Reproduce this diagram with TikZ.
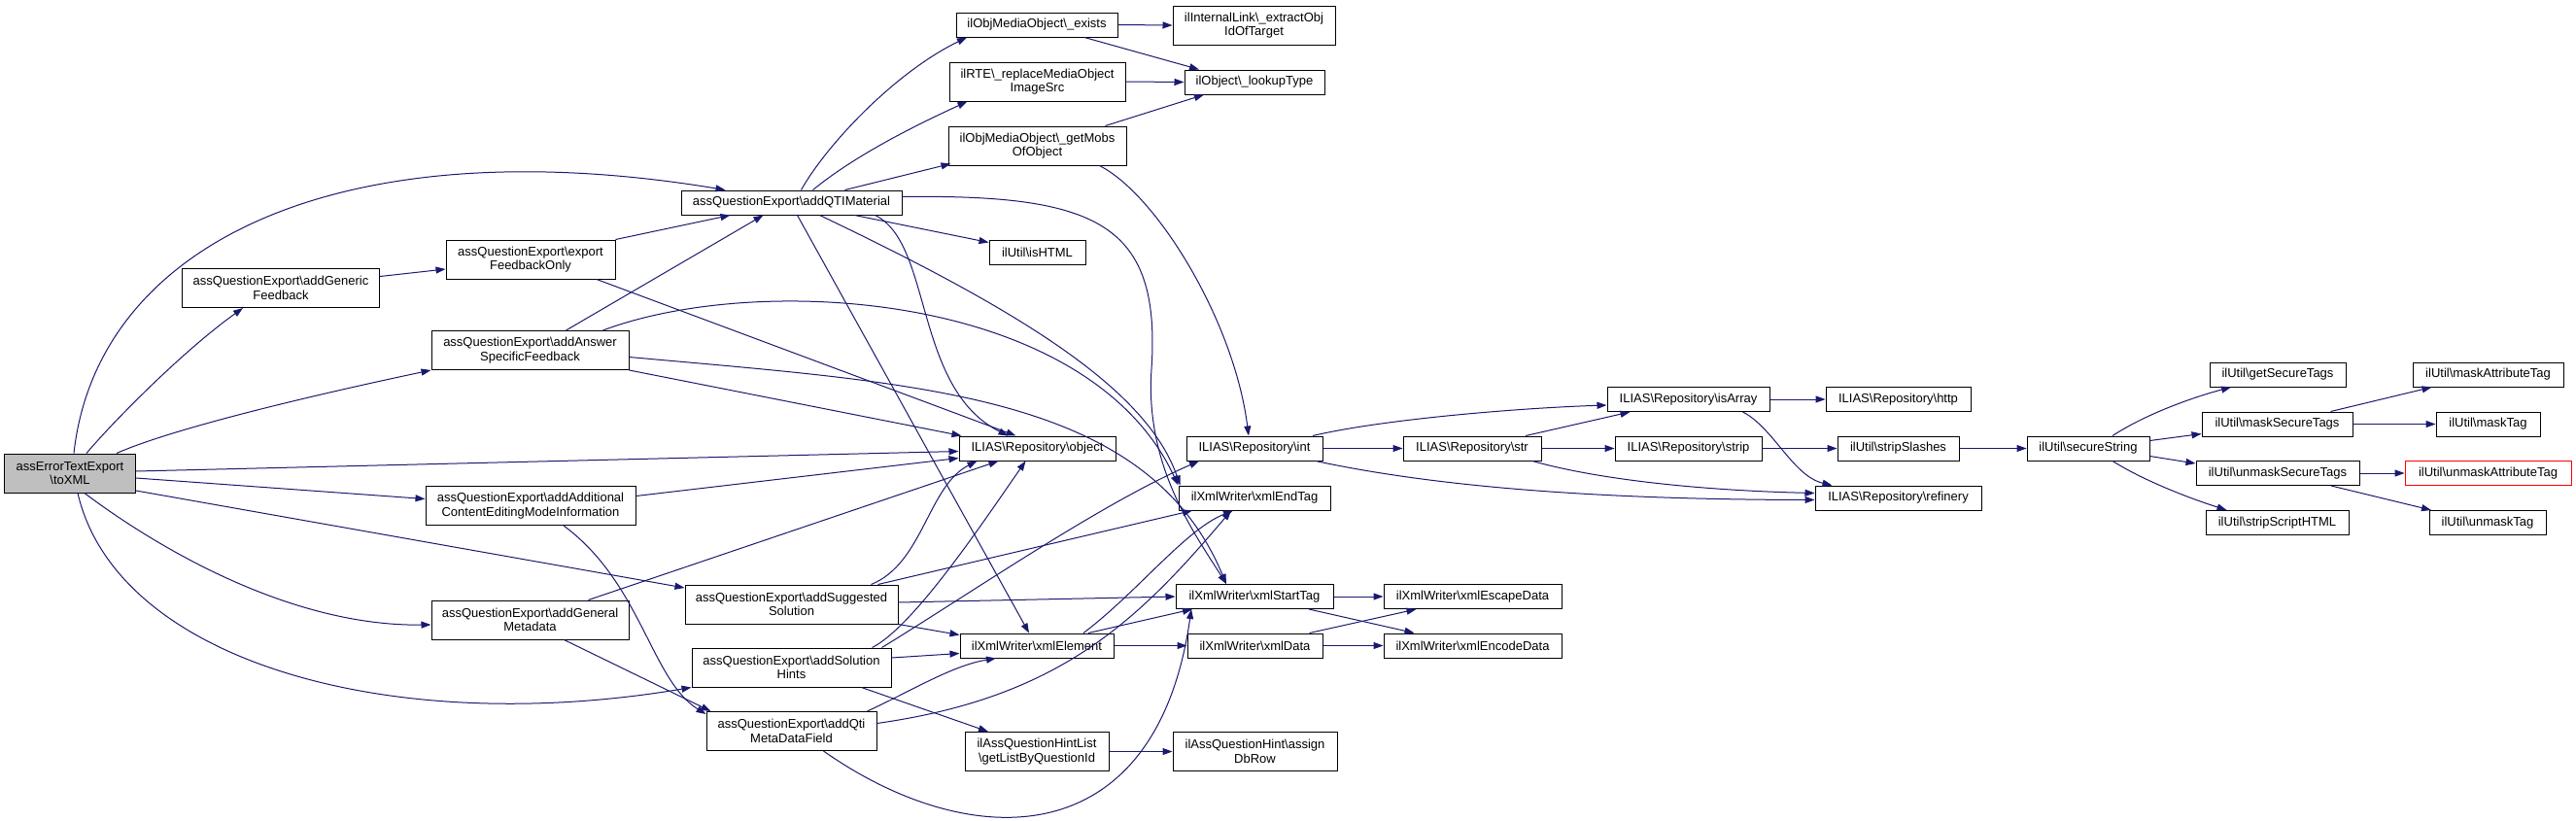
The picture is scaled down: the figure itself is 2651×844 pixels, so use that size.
\documentclass[tikz,border=0pt]{standalone}
\usepackage{fontspec}
\usepackage{tikz}
\usetikzlibrary{arrows.meta}
\newfontfamily\doxyfont{Liberation Sans}
\definecolor{edgeblue}{HTML}{191970}
\definecolor{nodegray}{HTML}{BFBFBF}
\newcommand{\bs}{\textbackslash{}}

\begin{document}
\begin{tikzpicture}[x=1pt,y=1pt,
    fn/.style={draw=black, line width=1pt, fill=white, inner sep=0pt, align=center,
      font=\doxyfont\fontsize{13}{14.5}\selectfont},
    oneline/.style={minimum height=25pt},
    twoline/.style={minimum height=40pt},
    call/.style={draw=edgeblue, line width=1pt, -{Triangle[length=10pt,width=7pt]}}]
    \path[use as bounding box, fill=white] (0,0) rectangle (2651,-844);
    % callers
    \node[fn, twoline, minimum width=135pt, fill=nodegray] (toxml) at (72,-487) {assErrorTextExport\\\bs toXML};
    \node[fn, twoline, minimum width=203pt] (gen) at (289,-296.5) {assQuestionExport\bs addGeneric\\Feedback};
    \node[fn, twoline, minimum width=174pt] (expfb) at (546,-267) {assQuestionExport\bs export\\FeedbackOnly};
    \node[fn, twoline, minimum width=203pt] (ansfb) at (545.5,-360.5) {assQuestionExport\bs addAnswer\\SpecificFeedback};
    \node[fn, twoline, minimum width=216pt] (addinfo) at (546,-520.5) {assQuestionExport\bs addAdditional\\ContentEditingModeInformation};
    \node[fn, twoline, minimum width=203pt] (genmeta) at (545.5,-638) {assQuestionExport\bs addGeneral\\Metadata};
    \node[fn, oneline, minimum width=227pt] (qtimat) at (814.5,-208.5) {assQuestionExport\bs addQTIMaterial};
    \node[fn, twoline, minimum width=219pt] (suggsol) at (814.5,-622) {assQuestionExport\bs addSuggested\\Solution};
    \node[fn, twoline, minimum width=205pt] (hints) at (814.5,-687) {assQuestionExport\bs addSolution\\Hints};
    \node[fn, twoline, minimum width=175pt] (qtimeta) at (814.5,-752.5) {assQuestionExport\bs addQti\\MetaDataField};
    % callees
    \node[fn, oneline, minimum width=166pt] (exists) at (1067,-25.5) {ilObjMediaObject\bs\_exists};
    \node[fn, twoline, minimum width=181pt] (rte) at (1067.5,-84) {ilRTE\bs\_replaceMediaObject\\ImageSrc};
    \node[fn, twoline, minimum width=183pt] (getmobs) at (1067.5,-150) {ilObjMediaObject\bs\_getMobs\\OfObject};
    \node[fn, oneline, minimum width=99pt] (ishtml) at (1067.5,-259.5) {ilUtil\bs isHTML};
    \node[fn, oneline, minimum width=161pt] (object) at (1067.5,-461.5) {ILIAS\bs Repository\bs object};
    \node[fn, oneline, minimum width=158pt] (xmlelem) at (1067,-664.5) {ilXmlWriter\bs xmlElement};
    \node[fn, twoline, minimum width=148pt] (hintlist) at (1067,-773.5) {ilAssQuestionHintList\\\bs getListByQuestionId};
    \node[fn, twoline, minimum width=167pt] (extract) at (1290.5,-26) {ilInternalLink\bs\_extractObj\\IdOfTarget};
    \node[fn, oneline, minimum width=144pt] (lookup) at (1291,-84.5) {ilObject\bs\_lookupType};
    \node[fn, oneline, minimum width=140pt] (repint) at (1291,-461.5) {ILIAS\bs Repository\bs int};
    \node[fn, oneline, minimum width=156pt] (endtag) at (1291,-512.5) {ilXmlWriter\bs xmlEndTag};
    \node[fn, oneline, minimum width=162pt] (starttag) at (1291,-614) {ilXmlWriter\bs xmlStartTag};
    \node[fn, oneline, minimum width=139pt] (xmldata) at (1291.5,-664.5) {ilXmlWriter\bs xmlData};
    \node[fn, twoline, minimum width=169pt] (assign) at (1291.5,-773.5) {ilAssQuestionHint\bs assign\\DbRow};
    \node[fn, oneline, minimum width=142pt] (str) at (1515,-461.5) {ILIAS\bs Repository\bs str};
    \node[fn, oneline, minimum width=183pt] (escape) at (1515.5,-614) {ilXmlWriter\bs xmlEscapeData};
    \node[fn, oneline, minimum width=183pt] (encode) at (1515.5,-664.5) {ilXmlWriter\bs xmlEncodeData};
    \node[fn, oneline, minimum width=167pt] (isarray) at (1737.5,-411) {ILIAS\bs Repository\bs isArray};
    \node[fn, oneline, minimum width=151pt] (strip) at (1737.5,-461.5) {ILIAS\bs Repository\bs strip};
    \node[fn, oneline, minimum width=149pt] (http) at (1953.5,-411) {ILIAS\bs Repository\bs http};
    \node[fn, oneline, minimum width=125pt] (slashes) at (1953.5,-461.5) {ilUtil\bs stripSlashes};
    \node[fn, oneline, minimum width=171pt] (refinery) at (1953.5,-512.5) {ILIAS\bs Repository\bs refinery};
    \node[fn, oneline, minimum width=126pt] (secure) at (2149,-461.5) {ilUtil\bs secureString};
    \node[fn, oneline, minimum width=140pt] (getsec) at (2344,-385.5) {ilUtil\bs getSecureTags};
    \node[fn, oneline, minimum width=155pt] (masksec) at (2343.5,-436.5) {ilUtil\bs maskSecureTags};
    \node[fn, oneline, minimum width=168pt] (unmasksec) at (2344,-487) {ilUtil\bs unmaskSecureTags};
    \node[fn, oneline, minimum width=147pt] (stripscript) at (2343.5,-538) {ilUtil\bs stripScriptHTML};
    \node[fn, oneline, minimum width=155pt] (maskattr) at (2560.5,-385.5) {ilUtil\bs maskAttributeTag};
    \node[fn, oneline, minimum width=107pt] (masktag) at (2560.5,-436.5) {ilUtil\bs maskTag};
    \node[fn, oneline, minimum width=171pt, draw=red] (unmaskattr) at (2560.5,-487) {ilUtil\bs unmaskAttributeTag};
    \node[fn, oneline, minimum width=120pt] (unmasktag) at (2560,-538) {ilUtil\bs unmaskTag};
    % toXML
    \draw[call] ([xshift=4pt]toxml.north) .. controls (100,-250) and (350,-130) .. ([xshift=-68pt]qtimat.north);
    \draw[call] ([xshift=17pt]toxml.north) .. controls (120,-430) and (190,-360) .. ([xshift=-39pt]gen.south);
    \draw[call] ([xshift=48pt]toxml.north) .. controls (180,-440) and (330,-405) .. (ansfb.south west);
    \draw[call] ([yshift=2pt]toxml.east) -- ([yshift=-3pt]object.west);
    \draw[call] ([yshift=-5pt]toxml.east) -- ([yshift=7pt]addinfo.west);
    \draw[call] ([yshift=-18pt]toxml.east) -- ([yshift=17pt]suggsol.west);
    \draw[call] ([xshift=15pt]toxml.south) .. controls (130,-540) and (280,-645) .. ([yshift=-5pt]genmeta.west);
    \draw[call] ([xshift=8pt]toxml.south) .. controls (120,-680) and (400,-760) .. (hints.south west);
    % feedback
    \draw[call] ([yshift=12pt]gen.east) -- ([yshift=-10pt]expfb.west);
    \draw[call] (expfb.north east) -- ([xshift=-63pt]qtimat.south);
    \draw[call] ([xshift=68pt]expfb.south) -- ([xshift=-22pt]object.north);
    \draw[call] ([xshift=37pt]ansfb.north) -- ([xshift=-29pt]qtimat.south);
    \draw[call] ([xshift=75pt]ansfb.north) .. controls (780,-280) and (1120,-300) .. (endtag.north west);
    \draw[call] ([yshift=-7pt]ansfb.east) .. controls (950,-395) and (1180,-405) .. ([xshift=-29pt]starttag.north);
    \draw[call] (ansfb.south east) -- ([xshift=3pt]object.north west);
    % metadata
    \draw[call] ([yshift=10pt]addinfo.east) -- ([yshift=-10pt]object.west);
    \draw[call] ([xshift=34pt]addinfo.south) .. controls (660,-600) and (670,-700) .. ([yshift=-3pt]qtimeta.north west);
    \draw[call] ([xshift=60pt]genmeta.north) -- ([xshift=-40pt]object.south);
    \draw[call] ([xshift=35pt]genmeta.south) -- ([xshift=5pt]qtimeta.north west);
    % solution, hints
    \draw[call] ([xshift=82pt]suggsol.north) .. controls (950,-580) and (955,-500) .. ([xshift=-62pt]object.south);
    \draw[call] ([xshift=89pt]suggsol.north) -- ([xshift=-64pt]endtag.south);
    \draw[call] ([yshift=2pt]suggsol.east) -- (starttag.west);
    \draw[call] (suggsol.south east) -- ([yshift=-2pt]xmlelem.north west);
    \draw[call] ([xshift=83pt]hints.north) .. controls (940,-645) and (1010,-540) .. ([xshift=-12pt]object.south);
    \draw[call] ([xshift=93pt]hints.north) .. controls (1000,-610) and (1130,-520) .. ([xshift=-57pt]repint.south);
    \draw[call] ([yshift=10pt]hints.east) -- ([yshift=-8pt]xmlelem.west);
    \draw[call] ([xshift=72pt]hints.south) -- ([xshift=-50pt]hintlist.north);
    \draw[call] ([xshift=78pt]qtimeta.north) .. controls (940,-710) and (980,-685) .. ([xshift=-42pt]xmlelem.south);
    \draw[call] ([yshift=8pt]qtimeta.east) .. controls (1090,-718) and (1170,-640) .. ([xshift=-24pt]endtag.south);
    \draw[call] ([xshift=33pt]qtimeta.south) .. controls (1000,-880) and (1190,-880) .. ([xshift=-65pt]starttag.south);
    % addQTIMaterial
    \draw[call] ([xshift=10pt]qtimat.north) .. controls (850,-150) and (920,-75) .. ([xshift=-72pt]exists.south);
    \draw[call] ([xshift=22pt]qtimat.north) .. controls (880,-160) and (940,-130) .. ([xshift=-72pt]rte.south);
    \draw[call] ([xshift=55pt]qtimat.north) -- ([xshift=3pt,yshift=2pt]getmobs.south west);
    \draw[call] ([xshift=65pt]qtimat.south) -- ([yshift=10pt]ishtml.west);
    \draw[call] ([xshift=6pt]qtimat.south) -- ([xshift=-8pt]xmlelem.north);
    \draw[call] ([xshift=86pt]qtimat.south) .. controls (960,-250) and (940,-400) .. ([xshift=-30pt]object.north);
    \draw[call] ([xshift=29pt]qtimat.south) .. controls (1050,-320) and (1180,-400) .. ([xshift=2pt]endtag.north west);
    \draw[call] ([yshift=6pt]qtimat.east) .. controls (1130,-200) and (1195,-230) .. (1185,-380)
        .. controls (1178,-480) and (1230,-550) .. ([xshift=-29pt]starttag.north);
    % media objects
    \draw[call] (exists.east) -- (extract.west);
    \draw[call] ([xshift=49pt]exists.south) -- ([xshift=-57pt]lookup.north);
    \draw[call] (rte.east) -- (lookup.west);
    \draw[call] ([xshift=70pt]getmobs.north) -- ([xshift=-52pt]lookup.south);
    \draw[call] ([xshift=64pt]getmobs.south) .. controls (1190,-200) and (1270,-330) .. ([xshift=-6pt]repint.north);
    % xml writer
    \draw[call] (xmlelem.east) -- (xmldata.west);
    \draw[call] ([xshift=53pt]xmlelem.north) -- ([xshift=-64pt]starttag.south);
    \draw[call] ([xshift=48pt]xmlelem.north) .. controls (1170,-610) and (1220,-545) .. ([xshift=-22pt]endtag.south);
    \draw[call] (starttag.east) -- (escape.west);
    \draw[call] ([xshift=56pt]starttag.south) -- ([xshift=-60pt]encode.north);
    \draw[call] ([xshift=56pt]xmldata.north) -- ([xshift=-58pt]escape.south);
    \draw[call] (xmldata.east) -- (encode.west);
    \draw[call] (hintlist.east) -- (assign.west);
    % repository
    \draw[call] (repint.east) -- (str.west);
    \draw[call] ([xshift=60pt]repint.north) .. controls (1420,-432) and (1560,-420) .. ([yshift=-6pt]isarray.west);
    \draw[call] ([xshift=63pt]repint.south) .. controls (1450,-495) and (1600,-514) .. ([yshift=-2pt]refinery.west);
    \draw[call] ([xshift=55pt]str.north) -- ([xshift=-60pt]isarray.south);
    \draw[call] (str.east) -- (strip.west);
    \draw[call] ([xshift=62pt]str.south) .. controls (1650,-495) and (1760,-505) .. ([yshift=5pt]refinery.west);
    \draw[call] (isarray.east) -- (http.west);
    \draw[call] ([xshift=56pt]isarray.south) .. controls (1825,-440) and (1845,-490) .. ([xshift=-68pt]refinery.north);
    \draw[call] (strip.east) -- (slashes.west);
    \draw[call] (slashes.east) -- (secure.west);
    % secureString
    \draw[call] ([xshift=25pt]secure.north) .. controls (2210,-425) and (2260,-408) .. ([xshift=-48pt]getsec.south);
    \draw[call] ([yshift=8pt]secure.east) -- ([yshift=-10pt]masksec.west);
    \draw[call] ([yshift=-8pt]secure.east) -- ([yshift=10pt]unmasksec.west);
    \draw[call] ([xshift=25pt]secure.south) .. controls (2210,-497) and (2260,-515) .. ([xshift=-52pt]stripscript.north);
    \draw[call] ([xshift=55pt]masksec.north) -- ([xshift=-58pt]maskattr.south);
    \draw[call] (masksec.east) -- (masktag.west);
    \draw[call] (unmasksec.east) -- (unmaskattr.west);
    \draw[call] ([xshift=55pt]unmasksec.south) -- ([xshift=-58pt]unmasktag.north);
\end{tikzpicture}
\end{document}
